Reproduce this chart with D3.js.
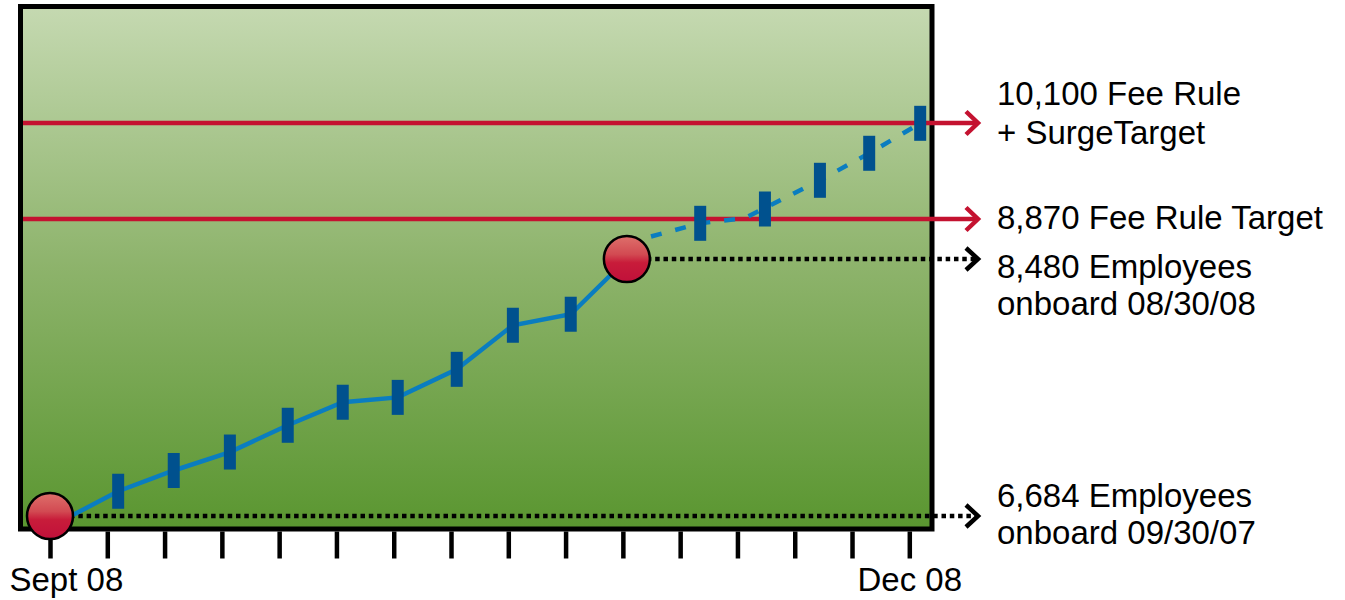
<!DOCTYPE html>
<html>
<head>
<meta charset="utf-8">
<script src="https://cdn.jsdelivr.net/npm/d3@7"></script>
<style>
  html, body { margin: 0; padding: 0; background: #ffffff; }
  svg { display: block; font-family: "Liberation Sans", Arial, sans-serif; }
</style>
</head>
<body>
<svg id="chart" width="1345" height="600"></svg>
<script>
// ---------------- data ----------------
const weekCount = 16;                       // weekly ticks Sept 08 .. Dec 08
const tickLabelWeeks = [0, 15];
const tickLabels = ["Sept 08", "Dec 08"];

// actual onboard employees (solid line)
const actualWeeks  = [0, 1.19, 2.16, 3.14, 4.15, 5.11, 6.07, 7.10, 8.08, 9.09, 10.07];
const actualValues = [6607, 6857, 7002, 7131, 7318, 7479, 7513, 7709, 8017, 8094, 8480];

// projected onboard employees (dashed line)
const projWeeks  = [10.07, 11.35, 12.13, 13.44, 14.30, 15.19];
const projValues = [8636, 8828, 8883, 9366, 9712, 10096];
const projMarkerWeeks  = [11.35, 12.48, 13.44, 14.30, 15.19];
const projMarkerValues = [8828, 8998, 9366, 9712, 10096];

// targets (red lines)
const targetValues = [10100, 8870];
const targetLabels = [["10,100 Fee Rule", "+ SurgeTarget"], ["8,870 Fee Rule Target"]];

// milestones (red circles + dotted lines)
const milestoneWeeks  = [0, 10.07];
const milestoneValues = [6684, 8480];
const milestoneLabels = [["6,684 Employees", "onboard 09/30/07"], ["8,480 Employees", "onboard 08/30/08"]];

// ---------------- layout ----------------
const svg = d3.select("#chart");
const frame = {x0: 20.5, y0: 6.5, x1: 932, y1: 529};
const x = d3.scaleLinear().domain([0, weekCount - 1]).range([50, 909.3]);
const y = d3.scaleLinear().domain([6684, 8480, 8870, 10100]).range([516, 259, 219, 123]);
const arrowEnd = 978, labelX = 997;

const defs = svg.append("defs");
const bg = defs.append("linearGradient").attr("id", "bgGrad")
  .attr("x1", 0).attr("y1", 0).attr("x2", 0).attr("y2", 1);
bg.append("stop").attr("offset", "0%").attr("stop-color", "#c5d9b1");
bg.append("stop").attr("offset", "50%").attr("stop-color", "#8db36b");
bg.append("stop").attr("offset", "100%").attr("stop-color", "#5a9630");

const cg = defs.append("linearGradient").attr("id", "circGrad")
  .attr("x1", 0).attr("y1", 0).attr("x2", 0).attr("y2", 1);
cg.append("stop").attr("offset", "0%").attr("stop-color", "#de706b");
cg.append("stop").attr("offset", "40%").attr("stop-color", "#d24a52");
cg.append("stop").attr("offset", "58%").attr("stop-color", "#c81c3a");
cg.append("stop").attr("offset", "100%").attr("stop-color", "#c0103a");

// background panel
svg.append("rect")
  .attr("x", frame.x0).attr("y", frame.y0)
  .attr("width", frame.x1 - frame.x0).attr("height", frame.y1 - frame.y0)
  .attr("fill", "url(#bgGrad)");

// x axis ticks
const axis = d3.axisBottom(x)
  .tickValues(d3.range(weekCount))
  .tickSize(27)
  .tickFormat(d => { const i = tickLabelWeeks.indexOf(d); return i >= 0 ? tickLabels[i] : ""; });
const gAxis = svg.append("g").attr("transform", `translate(0,${frame.y1 + 2.5})`).call(axis);
gAxis.select(".domain").remove();
gAxis.selectAll(".tick line").attr("stroke", "#000").attr("stroke-width", 4.5);
gAxis.selectAll(".tick text")
  .attr("fill", "#000").attr("font-size", 33).attr("font-family", "Liberation Sans, Arial, sans-serif")
  .attr("y", 59).attr("dy", null);
gAxis.selectAll(".tick text").filter(d => d === 0).attr("text-anchor", "start").attr("x", -41);

// frame
svg.append("rect")
  .attr("x", frame.x0).attr("y", frame.y0)
  .attr("width", frame.x1 - frame.x0).attr("height", frame.y1 - frame.y0)
  .attr("fill", "none").attr("stroke", "#000").attr("stroke-width", 5);

// target lines
const gT = svg.append("g");
targetValues.forEach((v, i) => {
  const yy = y(v);
  gT.append("line").attr("x1", frame.x0 + 2.5).attr("x2", arrowEnd - 1)
    .attr("y1", yy).attr("y2", yy).attr("stroke", "#c41230").attr("stroke-width", 4.5);
  gT.append("path").attr("d", `M${arrowEnd - 12},${yy - 11.5}L${arrowEnd},${yy}L${arrowEnd - 12},${yy + 11.5}`)
    .attr("fill", "none").attr("stroke", "#c41230").attr("stroke-width", 4.5);
  const lines = targetLabels[i];
  const first = lines.length > 1 ? yy - 18 : yy + 10;
  lines.forEach((t, j) => {
    svg.append("text").attr("x", labelX).attr("y", first + j * 39)
      .attr("font-size", 33).attr("fill", "#000").text(t);
  });
});

// milestone dotted lines
milestoneValues.forEach((v, i) => {
  const yy = y(v);
  svg.append("line").attr("x1", x(milestoneWeeks[i]) + 20).attr("x2", arrowEnd - 3)
    .attr("y1", yy).attr("y2", yy).attr("stroke", "#000").attr("stroke-width", 4.5)
    .attr("stroke-dasharray", "4.5,3.8");
  svg.append("path").attr("d", `M${arrowEnd - 12},${yy - 11}L${arrowEnd},${yy}L${arrowEnd - 12},${yy + 11}`)
    .attr("fill", "none").attr("stroke", "#000").attr("stroke-width", 4.5);
  const lines = milestoneLabels[i];
  const first = i === 0 ? yy - 9 : yy + 19;
  lines.forEach((t, j) => {
    svg.append("text").attr("x", labelX).attr("y", first + j * 37)
      .attr("font-size", 33).attr("fill", "#000").text(t);
  });
});

// lines
const line = d3.line().x(d => x(d[0])).y(d => y(d[1]));
svg.append("path").datum(d3.zip(actualWeeks, actualValues))
  .attr("d", line).attr("fill", "none").attr("stroke", "#0a7dc0").attr("stroke-width", 4.5);
svg.append("path").datum(d3.zip(projWeeks, projValues))
  .attr("d", line).attr("fill", "none").attr("stroke", "#0a7dc0").attr("stroke-width", 4.5)
  .attr("stroke-dasharray", "11,14");

// markers
const markers = d3.zip(actualWeeks.slice(1, -1), actualValues.slice(1, -1))
  .concat(d3.zip(projMarkerWeeks, projMarkerValues));
svg.append("g").selectAll("rect").data(markers).join("rect")
  .attr("x", d => x(d[0]) - 6).attr("y", d => y(d[1]) - 17.5)
  .attr("width", 12).attr("height", 35).attr("fill", "#00518e");

// milestone circles
svg.append("g").selectAll("circle").data(d3.zip(milestoneWeeks, milestoneValues)).join("circle")
  .attr("cx", d => x(d[0])).attr("cy", d => y(d[1])).attr("r", 23)
  .attr("fill", "url(#circGrad)").attr("stroke", "#000").attr("stroke-width", 2.5);
</script>
</body>
</html>
